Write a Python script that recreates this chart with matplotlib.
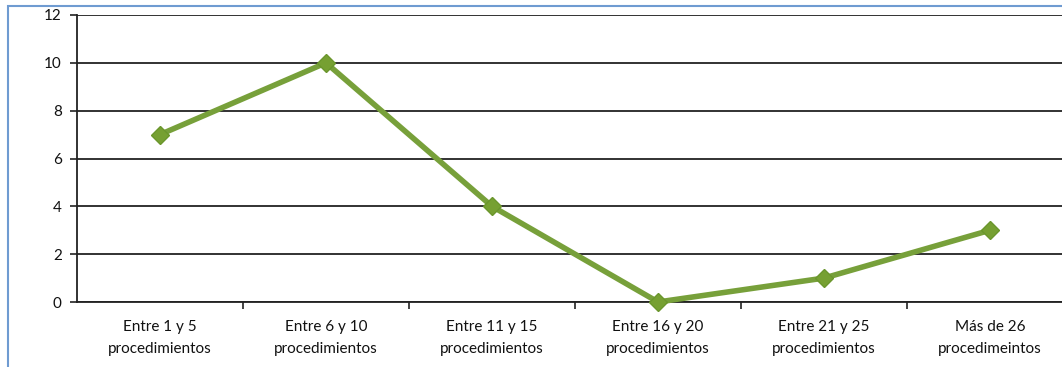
import matplotlib
matplotlib.use('Agg')
import matplotlib.pyplot as plt
from matplotlib.patches import Rectangle

# chart data
categories = ["Entre 1 y 5\nprocedimientos", "Entre 6 y 10\nprocedimientos",
              "Entre 11 y 15\nprocedimientos", "Entre 16 y 20\nprocedimientos",
              "Entre 21 y 25\nprocedimientos", "Más de 26\nprocedimeintos"]
values = [7, 10, 4, 0, 1, 3]
yticks = [0, 2, 4, 6, 8, 10, 12]

plt.rcParams['font.family'] = ['Lato', 'DejaVu Sans']

fig = plt.figure(figsize=(10.62, 3.67), dpi=100)
# the original is a crop, so the plot area runs past the right edge
ax = fig.add_axes([77 / 1062, 1 - 302 / 367, 996 / 1062, 287 / 367])

# blue chart border (left and top only are visible in the crop)
fig.patches.append(Rectangle((8 / 1062, -0.1), 1.2, 1 - 6 / 367 + 0.1,
                             transform=fig.transFigure, fill=False,
                             edgecolor='#6F9BD1', linewidth=1.5, zorder=0))

x = list(range(len(values)))
ax.plot(x, values, color='#77A03A', linewidth=4, marker='D', markersize=9,
        markerfacecolor='#76A032', markeredgecolor='#6A962C', zorder=3,
        clip_on=False)

ax.set_xlim(-0.5, len(values) - 0.5)
ax.set_ylim(0, 12)
ax.set_yticks(yticks)
ax.yaxis.grid(True, color='#222222', linewidth=1.3)
ax.set_axisbelow(True)

ax.set_xticks(x)
ax.set_xticklabels(categories, fontsize=11, color='#111111', linespacing=1.75)
ax.set_xticks([i + 0.5 for i in x[:-1]], minor=True)
ax.tick_params(axis='x', which='major', length=0, pad=13)
ax.tick_params(axis='x', which='minor', length=5, width=1.2, color='#222222')
ax.tick_params(axis='y', length=5, width=1.2, color='#222222', labelsize=11,
               labelcolor='#111111', pad=6)

for side in ['top', 'right']:
    ax.spines[side].set_visible(False)
ax.spines['left'].set_color('#222222')
ax.spines['left'].set_linewidth(1.3)
ax.spines['bottom'].set_color('#222222')
ax.spines['bottom'].set_linewidth(1.3)

fig.savefig('out.png', dpi=100)
